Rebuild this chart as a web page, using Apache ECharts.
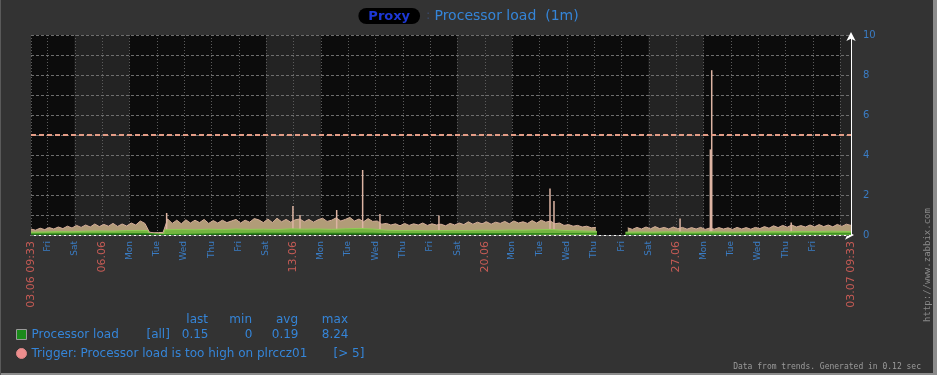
<!DOCTYPE html>
<html>
<head>
<meta charset="utf-8">
<script src="https://cdn.jsdelivr.net/npm/echarts@6/dist/echarts.min.js"></script>
<style>
html,body{margin:0;padding:0;background:#333333;}
#c{width:937px;height:375px;}
</style>
</head>
<body>
<div id="c"></div>
<script>
// ---- time frame: hours since 03.06 09:33 ----
const SPAN_HOURS = 720;          // 30 days
const FIRST_MIDNIGHT = 14.45;    // 04.06 00:00
const STEP_HOURS = 4;            // sampling of maxLoad

// tick labels (start, each midnight, end)
const tickLabels = ['03.06 09:33','Fri','Sat','06.06','Mon','Tue','Wed','Thu','Fri','Sat','13.06',
  'Mon','Tue','Wed','Thu','Fri','Sat','20.06','Mon','Tue','Wed','Thu','Fri','Sat','27.06',
  'Mon','Tue','Wed','Thu','Fri','03.07 09:33'];

// max load, one value every 4 hours (null = no data)
const maxLoad = [
  0.30,0.24,0.34,0.27,0.37,0.30,0.40,0.32,0.44,0.35,
  0.48,0.38,0.50,0.40,0.55,0.42,0.53,0.44,0.58,0.43,
  0.55,0.45,0.60,0.50,0.70,0.58,0.14,0.11,0.12,0.13,
  0.80,0.58,0.74,0.56,0.76,0.60,0.74,0.62,0.78,0.58,
  0.72,0.60,0.74,0.62,0.70,0.78,0.60,0.74,0.64,0.82,
  0.76,0.62,0.80,0.62,0.84,0.66,0.78,0.64,0.76,0.80,
  0.66,0.78,0.64,0.76,0.84,0.68,0.74,0.86,0.70,0.78,
  0.88,0.70,0.80,0.66,0.82,0.68,0.70,0.54,0.58,0.50,
  0.56,0.46,0.58,0.48,0.56,0.50,0.60,0.48,0.56,0.50,
  0.54,0.46,0.58,0.50,0.60,0.52,0.66,0.54,0.64,0.56,
  0.66,0.54,0.64,0.58,0.68,0.56,0.70,0.60,0.66,0.58,
  0.72,0.60,0.74,0.64,0.70,0.56,0.60,0.48,0.52,0.44,
  0.48,0.40,0.44,0.36,0.38,null,null,null,null,null,
  null,0.36,0.28,0.38,0.30,0.40,0.31,0.42,0.32,0.38,
  0.30,0.40,0.31,0.38,0.29,0.37,0.30,0.38,0.28,0.35,
  0.29,0.37,0.30,0.36,0.28,0.38,0.30,0.37,0.29,0.38,
  0.32,0.42,0.34,0.46,0.37,0.48,0.39,0.50,0.40,0.47,
  0.40,0.50,0.41,0.52,0.42,0.50,0.41,0.53,0.43,0.54,
  0.48
];

// short peaks [hour, value]
const peaks = [[119.1,1.1],[230,1.45],[236.2,1.0],[268.4,1.25],[291.2,3.25],[306.4,1.05],
  [358.2,0.97],[455.7,2.33],[459.2,1.7],[569.9,0.83],[596.5,4.28],[597.7,8.24],[667.5,0.62]];

// average load [hour, value]
const avgLoad = [[0,0.14],[12,0.15],[24,0.17],[36,0.16],[48,0.19],[60,0.2],[72,0.19],[84,0.22],
  [96,0.23],[102.5,0.22],[103.5,0.05],[116.5,0.05],[117.5,0.26],[132,0.28],[144,0.26],[156,0.29],
  [168,0.27],[180,0.3],[192,0.28],[204,0.29],[216,0.27],[228,0.31],[240,0.29],[252,0.3],[264,0.28],
  [276,0.31],[288,0.33],[300,0.3],[312,0.24],[324,0.22],[336,0.23],[348,0.21],[360,0.22],[372,0.23],
  [384,0.22],[396,0.24],[408,0.23],[420,0.25],[432,0.24],[444,0.26],[456,0.28],[468,0.23],[480,0.21],
  [490,0.19],[497,0.18],[510,null],[522,0.14],[534,0.15],[546,0.14],[558,0.16],[570,0.15],[582,0.14],
  [594,0.16],[606,0.15],[618,0.14],[630,0.15],[642,0.16],[654,0.17],[666,0.16],[678,0.18],[690,0.17],
  [702,0.19],[714,0.18],[720,0.17]];

// minimum load [hour, value]
const minLoad = [[0,0.05],[48,0.06],[102.5,0.07],[103.5,0.02],[116.5,0.02],[117.5,0.08],[200,0.09],
  [300,0.09],[312,0.07],[400,0.07],[497,0.06],[510,null],[522,0.04],[600,0.04],[720,0.06]];

const triggerLevel = 5;
const yMax = 10;

const hostName = 'Proxy';
const graphTitle = 'Processor load  (1m)';
const itemName = 'Processor load';
const itemFunc = '[all]';
const statNames = ['last','min','avg','max'];
const statValues = ['0.15','0','0.19','8.24'];
const triggerName = 'Trigger: Processor load is too high on plrccz01';
const triggerCond = '[> 5]';
const footerText = 'Data from trends. Generated in 0.12 sec';
const sideText = 'http://www.zabbix.com';

// ---- derived axis positions ----
const labelHours = tickLabels.map((_, i) =>
  i === 0 ? 0 : (i === tickLabels.length - 1 ? SPAN_HOURS : FIRST_MIDNIGHT + 24 * (i - 1)));
const gridHours = [0];
for (let h = FIRST_MIDNIGHT; h < SPAN_HOURS; h += 24) gridHours.push(h);
gridHours.push(SPAN_HOURS);

const BLUE = '#3585d8';
const FONT = 'DejaVu Sans';
const colW = [44, 44, 46, 50];

function labelFor(v) {
  let best = 0, bd = Infinity;
  labelHours.forEach((h, i) => { const d = Math.abs(h - v); if (d < bd) { bd = d; best = i; } });
  const t = tickLabels[best];
  return /\d/.test(t) ? '{r|' + t + '}' : '{d|' + t + '}';
}

const chart = echarts.init(document.getElementById('c'));
chart.setOption({
  animation: false,
  backgroundColor: '#333333',
  textStyle: { fontFamily: FONT },
  title: [{
    text: '{p|' + hostName + '}{c|:}{t|' + graphTitle + '}',
    left: 'center', top: 8, padding: 0,
    textStyle: {
      fontWeight: 'normal',
      rich: {
        p: { fontFamily: FONT, fontSize: 13, fontWeight: 'bold', color: '#1d38d6', backgroundColor: '#000',
             borderRadius: 9, padding: [2, 10, 1, 10] },
        c: { fontFamily: FONT, fontSize: 13, fontWeight: 'normal', color: '#3a4a6a', padding: [0, 4, 0, 6] },
        t: { fontFamily: FONT, fontSize: 14, fontWeight: 'normal', color: BLUE }
      }
    }
  }, {
    text: statNames.map((n, i) => '{h' + i + '|' + n + '}').join(''),
    left: 164, top: 313, padding: 0,
    textStyle: {
      fontWeight: 'normal',
      rich: Object.fromEntries(colW.map((w, i) => ['h' + i,
        { width: w, align: 'right', fontFamily: FONT, fontSize: 12, fontWeight: 'normal', color: BLUE, lineHeight: 14 }]))
    }
  }],
  legend: {
    orient: 'vertical', left: 16, top: 327, padding: 0, itemGap: 4, itemWidth: 10, itemHeight: 10,
    selectedMode: false,
    data: [
      { name: itemName, icon: 'rect', itemStyle: { borderColor: '#9a9a9a', borderWidth: 1 } },
      { name: triggerName, icon: 'circle', itemStyle: { borderColor: '#d88', borderWidth: 1 } }
    ],
    formatter: function (name) {
      if (name === itemName) {
        return '{n|' + itemName + '}{a|' + itemFunc + '}' +
          statValues.map((v, i) => '{v' + i + '|' + v + '}').join('');
      }
      return '{t|' + triggerName + '}{b|' + triggerCond + '}';
    },
    textStyle: {
      color: BLUE, fontFamily: FONT, fontSize: 12, lineHeight: 15,
      rich: Object.assign({
        n: { width: 115, fontFamily: FONT, fontSize: 12, color: BLUE },
        a: { width: 18, fontFamily: FONT, fontSize: 12, color: BLUE },
        t: { width: 302, fontFamily: FONT, fontSize: 12, color: BLUE },
        b: { fontFamily: FONT, fontSize: 12, color: BLUE }
      }, Object.fromEntries(colW.map((w, i) => ['v' + i,
        { width: w, align: 'right', fontFamily: FONT, fontSize: 12, color: BLUE }])))
    }
  },
  grid: { left: 31, right: 86, top: 35, bottom: 140, containLabel: false },
  xAxis: {
    type: 'value', min: 0, max: SPAN_HOURS, z: 0,
    axisLine: { show: true, onZero: false, lineStyle: { color: '#ffffff', width: 1 },
                symbol: ['none', 'arrow'], symbolSize: [7, 9], symbolOffset: [0, 3] },
    axisTick: { show: false, customValues: gridHours },
    axisLabel: {
      customValues: labelHours, rotate: 90, margin: 6, hideOverlap: false,
      showMinLabel: true, showMaxLabel: true,
      formatter: labelFor,
      rich: {
        d: { color: '#3a7cc4', fontFamily: FONT, fontSize: 9 },
        r: { color: '#c65b55', fontFamily: FONT, fontSize: 11 }
      }
    },
    splitLine: { show: true, lineStyle: { color: '#5c5c5c', width: 1, type: [1, 2] } },
    splitArea: { show: true, areaStyle: { color: ['#0c0c0c', '#0c0c0c', '#232323', '#232323', '#0c0c0c', '#0c0c0c', '#0c0c0c'] } }
  },
  yAxis: {
    type: 'value', position: 'right', min: 0, max: yMax, interval: 1, z: 1,
    axisLine: { show: true, onZero: false, lineStyle: { color: '#ffffff', width: 1 },
                symbol: ['none', 'arrow'], symbolSize: [7, 9], symbolOffset: [0, 3] },
    axisTick: { show: false },
    axisLabel: { margin: 12, color: '#3a7cc4', fontFamily: FONT, fontSize: 10,
                 formatter: v => (v % 2 === 0 ? String(v) : '') },
    splitLine: { show: true, lineStyle: { color: '#6e6e6e', width: 1, type: [3, 2] } }
  },
  series: [
    {
      name: 'max', type: 'line', z: 2, symbol: 'none', connectNulls: false,
      data: maxLoad.map((v, i) => [i * STEP_HOURS, v]),
      lineStyle: { color: '#d5ad9a', width: 1 },
      areaStyle: { color: '#b19c78', opacity: 1 },
      itemStyle: { color: '#d5ad9a' }
    },
    {
      name: 'peaks', type: 'bar', z: 3, barWidth: 1.5,
      data: peaks,
      itemStyle: { color: '#ddb4a3' }
    },
    {
      name: 'avg', type: 'line', z: 4, symbol: 'none', connectNulls: false,
      data: avgLoad,
      lineStyle: { color: '#8fcc55', width: 1 },
      areaStyle: { color: '#74b440', opacity: 1 },
      itemStyle: { color: '#8fcc55' }
    },
    {
      name: itemName, type: 'line', z: 5, symbol: 'none', connectNulls: false,
      data: minLoad,
      lineStyle: { color: '#2b8a1c', width: 1 },
      areaStyle: { color: '#1f5a14', opacity: 1 },
      itemStyle: { color: '#1a8a1a' }
    },
    {
      name: triggerName, type: 'line', z: 6, symbol: 'none',
      data: [[0, triggerLevel], [SPAN_HOURS, triggerLevel]],
      lineStyle: { color: '#e39c86', width: 2, type: [5, 3] },
      itemStyle: { color: '#ee8e8e' }
    }
  ],
  graphic: [
    { type: 'rect', silent: true, shape: { x: 933, y: 0, width: 4, height: 375 }, style: { fill: '#8c8c8c' } },
    { type: 'rect', silent: true, shape: { x: 0, y: 373, width: 937, height: 2 }, style: { fill: '#8c8c8c' } },
    { type: 'rect', silent: true, shape: { x: 0, y: 0, width: 1, height: 375 }, style: { fill: '#5a5a5a' } },
    { type: 'text', silent: true, x: 928, y: 265, rotation: Math.PI / 2,
      style: { text: sideText, fill: '#8a8a8a', font: '9px "DejaVu Sans Mono"', align: 'center', verticalAlign: 'middle',
               textAlign: 'center', textVerticalAlign: 'middle' } },
    { type: 'text', silent: true, x: 921, y: 367,
      style: { text: footerText, fill: '#9b9b9b', font: '8px "DejaVu Sans Mono"', align: 'right', verticalAlign: 'middle',
               textAlign: 'right', textVerticalAlign: 'middle' } }
  ]
});
</script>
</body>
</html>
